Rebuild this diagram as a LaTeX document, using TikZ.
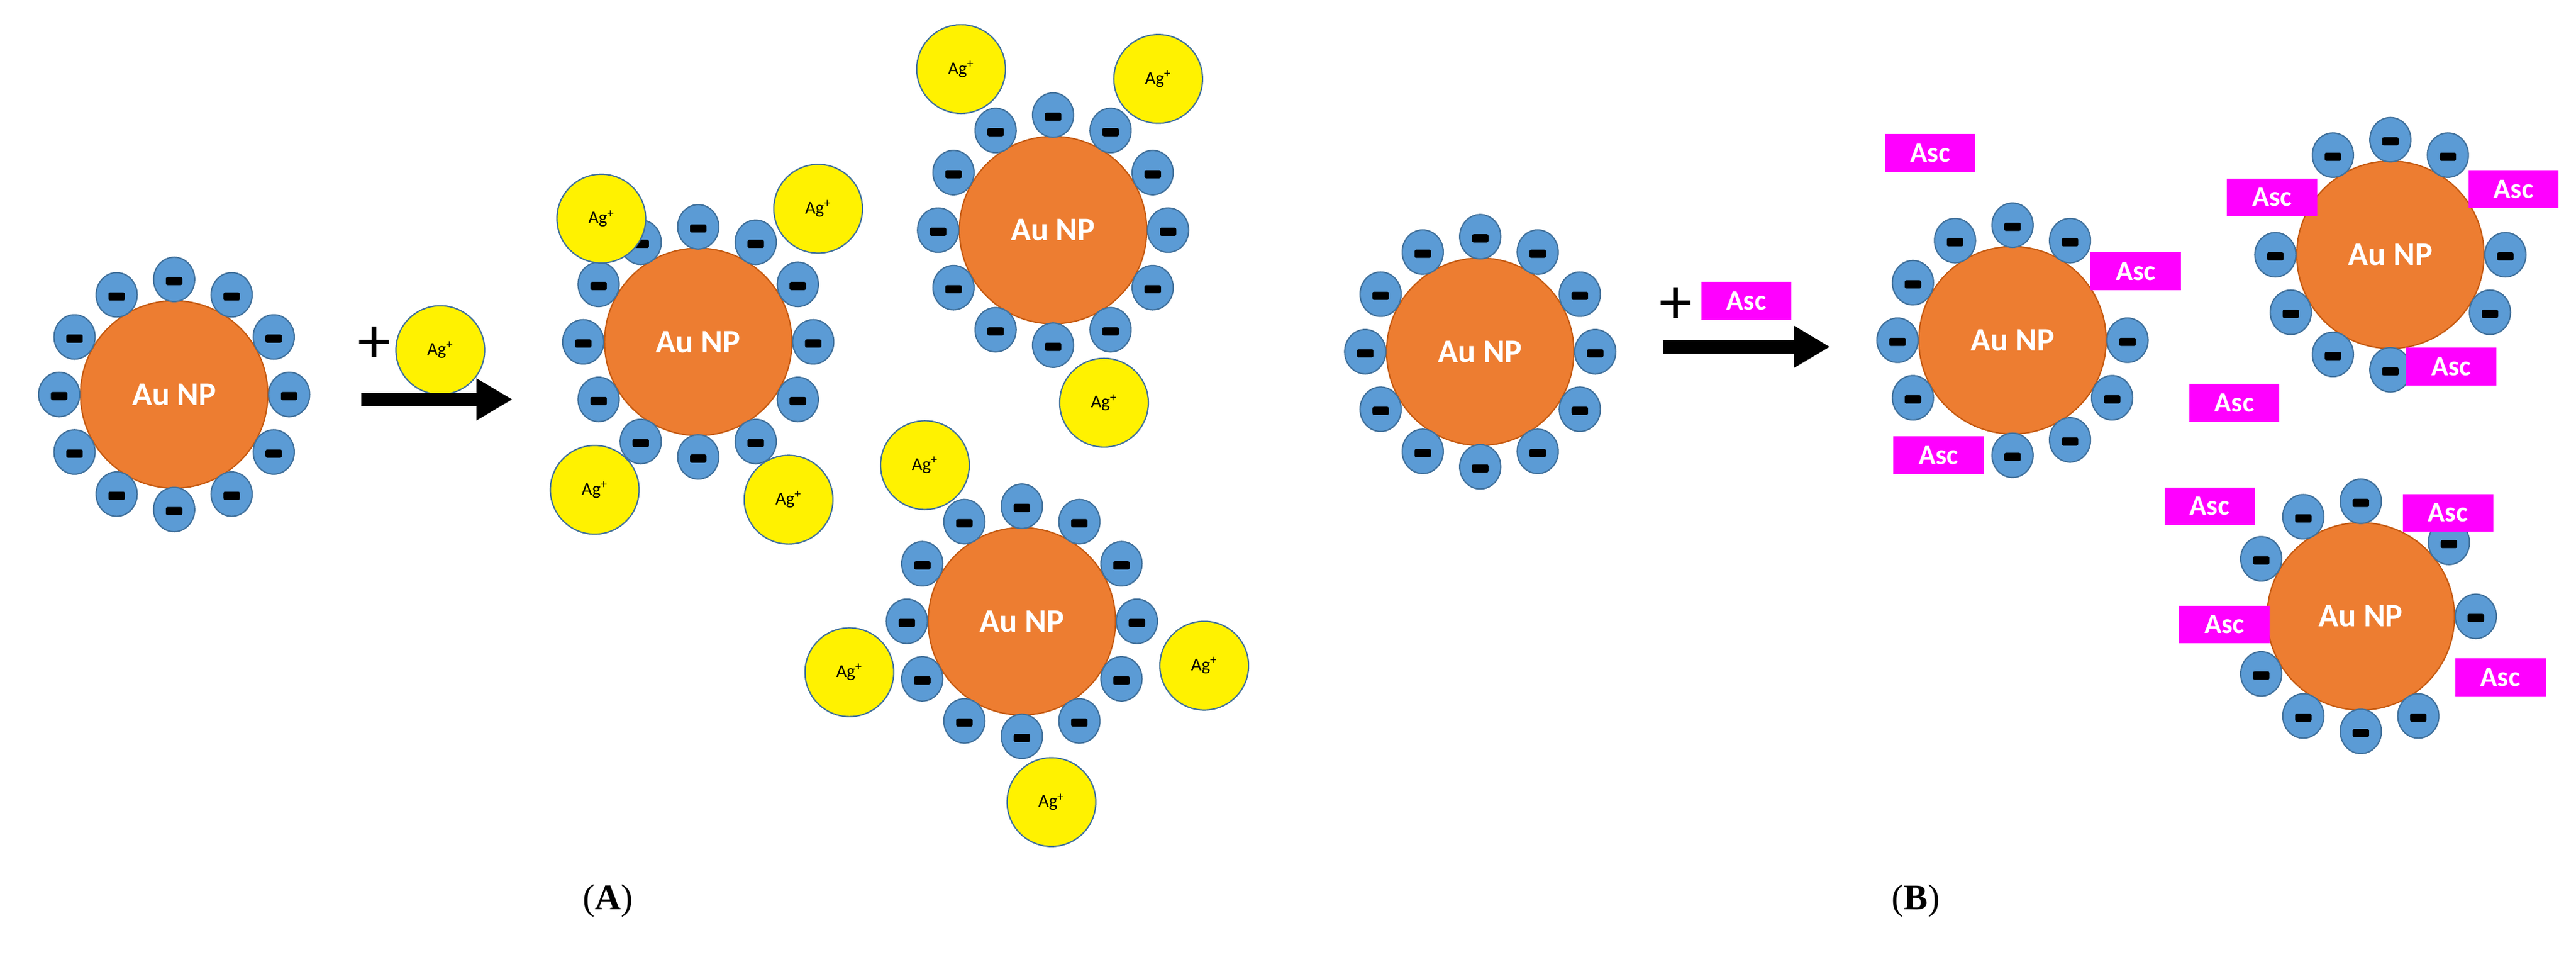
\documentclass[tikz,border=0pt]{standalone}
\usepackage{fontspec}
\setmainfont{Carlito}
\newfontfamily\serifF{Liberation Serif}
\usetikzlibrary{calc}
\definecolor{auor}{HTML}{ED7D31}
\definecolor{aued}{HTML}{C55A11}
\definecolor{satb}{HTML}{5B9BD5}
\definecolor{sate}{HTML}{41719C}
\definecolor{mag}{HTML}{FF00FF}
\tikzset{
 core/.style={circle,fill=auor,draw=aued,line width=0.8pt,minimum size=114pt,inner sep=0pt,text=white,font=\fontsize{20}{20}\selectfont\bfseries},
 sat/.style={ellipse,fill=satb,draw=sate,line width=0.8pt,minimum width=25pt,minimum height=27pt,inner sep=0pt},
 minus/.style={fill=black,rounded corners=1pt,minimum width=10pt,minimum height=5pt,inner sep=0pt},
 ag/.style={circle,fill=yellow,draw=sate,line width=0.8pt,minimum size=54pt,inner sep=0pt,font=\fontsize{11}{11}\selectfont},
 asc/.style={fill=mag,minimum width=55pt,minimum height=23pt,inner sep=0pt,text=white,font=\fontsize{17}{17}\selectfont\bfseries},
 bigarrow/.style={line width=8pt,-{Triangle[length=22pt,width=24pt]}},
 plus/.style={font=\fontsize{40}{40}\selectfont,inner sep=0pt},
 lab/.style={font=\serifF\fontsize{22}{22}\selectfont}
}
\usetikzlibrary{arrows.meta,shapes.geometric}
\newcommand\npart[4]{%
 \node[core] (#1) at (#2,#3) {Au NP};
 \foreach \a in {#4}{\node[sat] (#1s\a) at ($(#1)+(-\a:70)$) {};
 \node[minus] (#1m\a) at ($(#1s\a)+(0,1)$) {};}}
\begin{document}
\begin{tikzpicture}[x=1pt,y=-1pt]
\useasboundingbox (0,0) rectangle (1568,582);
% A
\npart{pa}{106}{240}{0,30,60,90,120,150,180,210,240,270,300,330}
\node[plus] (plA) at (228,210) {+};
\node[ag] (agA) at (268,213) {Ag\textsuperscript{+}};
\coordinate (arA1) at (220,243); \coordinate (arA2) at (312,243);
\draw[bigarrow] (arA1) -- (arA2);
\npart{pb}{425}{208}{0,30,60,90,120,150,180,210,240,270,300,330}
\node[ag] (ag1) at (366,133) {Ag\textsuperscript{+}};
\node[ag] (ag2) at (498,127) {Ag\textsuperscript{+}};
\node[ag] (ag3) at (362,298) {Ag\textsuperscript{+}};
\node[ag] (ag4) at (480,304) {Ag\textsuperscript{+}};
\npart{pc}{641}{140}{0,30,60,90,120,150,180,210,240,270,300,330}
\node[ag] (ag5) at (585,42) {Ag\textsuperscript{+}};
\node[ag] (ag6) at (705,48) {Ag\textsuperscript{+}};
\node[ag] (ag7) at (672,245) {Ag\textsuperscript{+}};
\npart{pd}{622}{378}{0,30,60,90,120,150,180,210,240,270,300,330}
\node[ag] (ag8) at (563,283) {Ag\textsuperscript{+}};
\node[ag] (ag9) at (517,409) {Ag\textsuperscript{+}};
\node[ag] (ag10) at (733,405) {Ag\textsuperscript{+}};
\node[ag] (ag11) at (640,488) {Ag\textsuperscript{+}};
\node[lab] (labA) at (370,548) {(\textbf{A})};
% B
\npart{pe}{901}{214}{0,30,60,90,120,150,180,210,240,270,300,330}
\node[plus] (plB) at (1020,186) {+};
\node[asc] (ascA) at (1063,183) {Asc};
\coordinate (arB1) at (1012,211); \coordinate (arB2) at (1114,211);
\draw[bigarrow] (arB1) -- (arB2);
\npart{pf}{1225}{207}{0,60,90,120,150,180,210,270,300,330}
\node[asc] (asc1) at (1175,93) {Asc};
\node[asc] (asc2) at (1300,165) {Asc};
\node[asc] (asc3) at (1180,277) {Asc};
\npart{pg}{1455}{155}{0,60,90,120,180,210,240,270,330}
\node[asc] (asc4) at (1383,120) {Asc};
\node[asc] (asc5) at (1530,115) {Asc};
\node[asc] (asc6) at (1492,223) {Asc};
\node[asc] (asc7) at (1360,245) {Asc};
\npart{ph}{1437}{375}{0,40,90,120,150,210,240,270,300}
\node[asc] (asc8) at (1345,308) {Asc};
\node[asc] (asc9) at (1490,312) {Asc};
\node[asc] (asc10) at (1354,380) {Asc};
\node[asc] (asc11) at (1522,412) {Asc};
\node[lab] (labB) at (1166,548) {(\textbf{B})};
\end{tikzpicture}
\end{document}
